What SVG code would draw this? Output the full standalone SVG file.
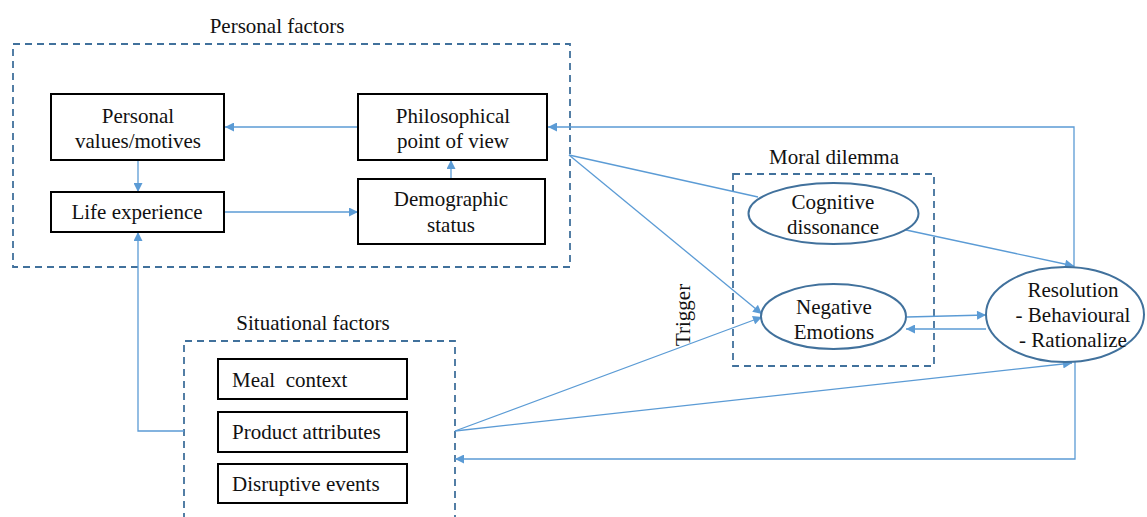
<svg xmlns="http://www.w3.org/2000/svg" width="1147" height="517" viewBox="0 0 1147 517">
<style>
text{font-family:"Liberation Serif","Times New Roman",serif;font-size:21px;fill:#111;}
.c{text-anchor:middle;}
.grp{fill:none;stroke:#41719C;stroke-width:1.8;stroke-dasharray:7,5;}
.box{fill:#fff;stroke:#000;stroke-width:2;}
.ell{fill:#fff;stroke:#41719C;stroke-width:2;}
.ln{fill:none;stroke:#5B9BD5;stroke-width:1.3;}
.ar{marker-end:url(#ah);}
</style>
<defs>
<marker id="ah" viewBox="0 0 10 10" refX="10" refY="5" markerWidth="10" markerHeight="9" markerUnits="userSpaceOnUse" orient="auto">
<path d="M0,0 L10,5 L0,10 z" fill="#5B9BD5"/>
</marker>
</defs>
<rect width="1147" height="517" fill="#fff"/>

<g id="personal-factors">
<rect class="grp" x="13" y="44" width="557" height="223"/>
<text class="c" x="277" y="33">Personal factors</text>
</g>
<g id="moral-dilemma">
<rect class="grp" x="733" y="174" width="201" height="192"/>
<text class="c" x="834" y="164">Moral dilemma</text>
</g>
<g id="situational-factors">
<path class="grp" d="M184,520 V341 H455 V520"/>
<text class="c" x="313" y="330">Situational factors</text>
</g>

<g id="connectors">
<path class="ln ar" d="M358,127 H225"/>
<path class="ln ar" d="M138,160 V192"/>
<path class="ln ar" d="M224,212 H358"/>
<path class="ln ar" d="M451,179 V160"/>
<path class="ln ar" d="M1074,267 V127 H548"/>
<path class="ln" d="M569,155 L758,197"/>
<path class="ln ar" d="M569,155 L762,314"/>
<path class="ln ar" d="M906,230 L1074,266"/>
<path class="ln ar" d="M907,317 L986,315"/>
<path class="ln ar" d="M986,329 L906,329"/>
<path class="ln ar" d="M455,431 L762,317"/>
<path class="ln ar" d="M455,431 L1072,363"/>
<path class="ln ar" d="M1075,362 V459 H455"/>
<path class="ln ar" d="M184,431 H138 V232"/>
</g>

<g id="personal-values">
<rect class="box" x="51" y="94" width="173" height="66"/>
<text class="c" x="138" y="123">Personal</text>
<text class="c" x="138" y="148">values/motives</text>
</g>
<g id="philosophical">
<rect class="box" x="358" y="94" width="189" height="66"/>
<text class="c" x="453" y="123">Philosophical</text>
<text class="c" x="453" y="148">point of view</text>
</g>
<g id="life-experience">
<rect class="box" x="51" y="192" width="173" height="40"/>
<text class="c" x="137" y="219">Life experience</text>
</g>
<g id="demographic">
<rect class="box" x="358" y="179" width="187" height="65"/>
<text class="c" x="451" y="206">Demographic</text>
<text class="c" x="451" y="232">status</text>
</g>

<g id="cognitive-dissonance">
<ellipse class="ell" cx="833.5" cy="213.5" rx="85" ry="30.5"/>
<text class="c" x="833" y="209">Cognitive</text>
<text class="c" x="833" y="234">dissonance</text>
</g>
<g id="negative-emotions">
<ellipse class="ell" cx="833.5" cy="316.5" rx="72.5" ry="32.5"/>
<text class="c" x="834" y="314">Negative</text>
<text class="c" x="834" y="339">Emotions</text>
</g>
<g id="resolution">
<ellipse class="ell" cx="1065" cy="314.5" rx="79" ry="47.5"/>
<text class="c" x="1073" y="297">Resolution</text>
<text class="c" x="1073" y="322">- Behavioural</text>
<text class="c" x="1073" y="347">- Rationalize</text>
</g>

<g id="meal-context">
<rect class="box" x="218" y="359" width="189" height="40"/>
<text x="232" y="387" xml:space="preserve">Meal  context</text>
</g>
<g id="product-attributes">
<rect class="box" x="218" y="412" width="189" height="40"/>
<text x="232" y="439">Product attributes</text>
</g>
<g id="disruptive-events">
<rect class="box" x="218" y="464" width="189" height="39"/>
<text x="232" y="491">Disruptive events</text>
</g>

<g id="trigger-label">
<text class="c" transform="translate(690,315) rotate(-90)">Trigger</text>
</g>
</svg>
